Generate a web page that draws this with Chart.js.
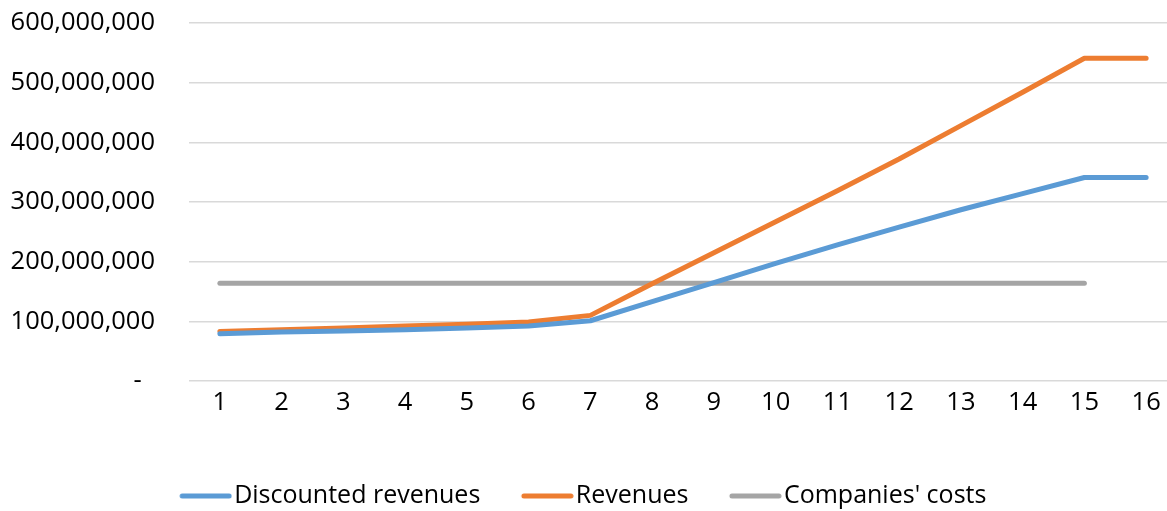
<!DOCTYPE html>
<html>
<head>
<meta charset="utf-8">
<script src="https://cdn.jsdelivr.net/npm/chart.js@4.4.1/dist/chart.umd.min.js"></script>
<style>
  html, body { margin: 0; padding: 0; background: #fff; overflow: hidden; }
  #wrap { position: relative; width: 1180px; height: 511px; }
</style>
</head>
<body>
<div id="wrap"><canvas id="c"></canvas></div>
<script>
const categories = ["1","2","3","4","5","6","7","8","9","10","11","12","13","14","15","16"];
const discountedRevenues = [79e6, 82e6, 84e6, 86e6, 89e6, 92e6, 101e6, 133e6, 165e6, 197e6, 228e6, 258e6, 287e6, 314e6, 341e6, 341e6];
const revenues = [83e6, 86e6, 89e6, 92e6, 95e6, 99e6, 110e6, 163e6, 215e6, 267e6, 319e6, 372e6, 428e6, 484e6, 541e6, 541e6];
const companiesCosts = [164e6, 164e6, 164e6, 164e6, 164e6, 164e6, 164e6, 164e6, 164e6, 164e6, 164e6, 164e6, 164e6, 164e6, 164e6, null];
const seriesNames = ["Discounted revenues", "Revenues", "Companies' costs"];
const seriesColors = ['#5B9BD5', '#ED7D31', '#A5A5A5'];

const FONT = "Open Sans";
const FS = 25.5;
const LEG_FS = 25;
const mk = (label, data, color) => ({
  label, data,
  borderColor: color, backgroundColor: color,
  borderWidth: 5, borderCapStyle: 'round', borderJoinStyle: 'round',
  pointRadius: 0, pointHoverRadius: 0, tension: 0, fill: false, spanGaps: false
});

// legend marker images: a round-capped line sitting at the right of a 64px canvas
function legendMarker(color) {
  const cv = document.createElement('canvas');
  cv.width = 64; cv.height = 8;
  const g = cv.getContext('2d');
  g.strokeStyle = color; g.lineWidth = 5; g.lineCap = 'round';
  g.beginPath(); g.moveTo(14, 4); g.lineTo(61, 4); g.stroke();
  return cv;
}
const markers = seriesColors.map(legendMarker);

const chart = new Chart(document.getElementById('c'), {
  type: 'line',
  data: {
    labels: categories,
    datasets: seriesNames.map((n, i) => mk(n, [discountedRevenues, revenues, companiesCosts][i], seriesColors[i]))
  },
  options: {
    responsive: true,
    maintainAspectRatio: false,
    animation: false,
    layout: { padding: { top: 23, left: -12, right: 3, bottom: -7.5 } },
    plugins: {
      tooltip: { enabled: false },
      legend: {
        position: 'bottom',
        align: 'center',
        labels: {
          usePointStyle: true,
          pointStyleWidth: 43,
          boxHeight: 5,
          padding: 40,
          color: '#000',
          font: { family: FONT, size: LEG_FS },
          generateLabels: (c) => Chart.defaults.plugins.legend.labels.generateLabels(c).map((it, i) => Object.assign(it, { pointStyle: markers[i] }))
        }
      }
    },
    scales: {
      x: {
        offset: true,
        grid: { display: false, drawTicks: false },
        border: { display: false },
        ticks: { color: '#000', font: { family: FONT, size: FS }, padding: 6, maxRotation: 0, autoSkip: false },
        afterFit: (s) => { s.height = 62.5; }
      },
      y: {
        min: 0, max: 600e6,
        grid: { color: '#D9D9D9', lineWidth: 1.5, drawTicks: false },
        border: { display: false },
        ticks: {
          stepSize: 100e6,
          color: '#000',
          padding: 34,
          font: { family: FONT, size: FS },
          callback: (v) => v === 0 ? '-  ' : Number(v).toLocaleString('en-US')
        },
        afterFit: (s) => { s.width = 201; s.paddingTop = 0; s.paddingBottom = 0; }
      }
    }
  }
});
</script>
</body>
</html>
